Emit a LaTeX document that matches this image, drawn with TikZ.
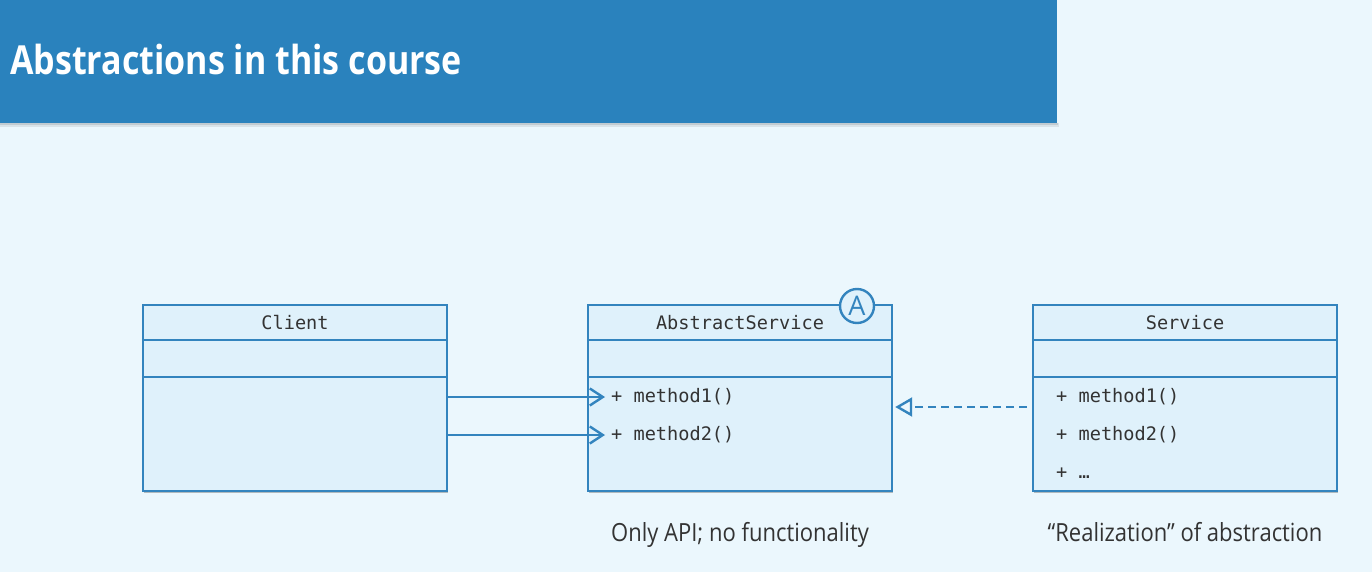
\documentclass[tikz,border=0pt]{standalone}
\usepackage{fontspec}
\setmainfont{Open Sans}
\newfontfamily\titlefont{Open Sans}[FakeStretch=0.85]
\newfontfamily\condfont{Open Sans}[FakeStretch=0.88]
\setmonofont{DejaVu Sans Mono}
\usetikzlibrary{arrows.meta,calc,shadows}

\definecolor{pagebg}{HTML}{EBF7FD}
\definecolor{barblue}{HTML}{2A82BD}
\definecolor{boxfill}{HTML}{DFF1FB}
\definecolor{boxline}{HTML}{3384BE}
\definecolor{inktext}{HTML}{333333}

\tikzset{
  classbox/.style={draw=boxline, line width=2.4pt, fill=boxfill,
    minimum width=304pt, minimum height=186pt, inner sep=0pt,
    drop shadow={shadow xshift=1pt, shadow yshift=-2pt, opacity=0.25, fill=black}},
  divider/.style={draw=boxline, line width=2.4pt},
  classname/.style={font=\ttfamily\fontsize{18.6}{20}\selectfont, text=inktext, inner sep=0pt},
  member/.style={font=\ttfamily\fontsize{18.6}{20}\selectfont, text=inktext, inner sep=0pt, anchor=west},
  note/.style={font=\condfont\fontsize{25}{28}\selectfont, text=inktext, inner sep=0pt, anchor=base},
  assoc/.style={draw=boxline, line width=2.4pt,
    -{Straight Barb[length=13pt, width=17pt, line width=2.4pt]}},
  realize/.style={draw=boxline, line width=2.4pt, dash pattern=on 8pt off 5pt,
    -{Triangle[open, length=17pt, width=19pt, line width=2.4pt, fill=pagebg]}},
  abstag/.style={circle, draw=boxline, line width=2.4pt, fill=boxfill, minimum size=34pt,
    inner sep=0pt, text=boxline, font=\fontsize{27}{28}\selectfont},
}

\begin{document}
\begin{tikzpicture}[x=1pt, y=-1pt]
  % page and header bar
  \fill[pagebg] (0,0) rectangle (1372,572);
  \useasboundingbox (0,0) rectangle (1372,572);
  \fill[black, opacity=0.08] (0,123) rectangle (1059,127);
  \fill[black, opacity=0.10] (0,123) rectangle (1058,125);
  \fill[barblue] (0,0) rectangle (1057,123);
  \node[anchor=base west, inner sep=0pt, text=white,
        font=\titlefont\bfseries\fontsize{40}{44}\selectfont] (title) at (10,75)
        {Abstractions in this course};

  % class boxes
  \node[classbox] (client)   at (295,398) {};
  \node[classbox] (abstract) at (740,398) {};
  \node[classbox] (service)  at (1185,398) {};

  % compartment dividers
  \foreach \c in {client,abstract,service} {
    \draw[divider] ($(\c.north west)+(0,36)$) -- ($(\c.north east)+(0,36)$);
    \draw[divider] ($(\c.north west)+(0,73)$) -- ($(\c.north east)+(0,73)$);
  }

  % class names
  \node[classname] (client-name)   at (295,323) {Client};
  \node[classname] (abstract-name) at (740,323) {AbstractService};
  \node[classname] (service-name)  at (1185,323) {Service};

  % abstract marker
  \node[abstag] (abstract-tag) at (857,306) {A};

  % operations
  \node[member] (abstract-m1) at (611,397) {+ method1()};
  \node[member] (abstract-m2) at (611,435) {+ method2()};
  \node[member] (service-m1)  at (1056,397) {+ method1()};
  \node[member] (service-m2)  at (1056,435) {+ method2()};
  \node[member] (service-m3)  at (1056,473) {+ …};

  % client calls into the abstraction
  \coordinate (call1-end) at (605,397);
  \coordinate (call2-end) at (605,435);
  \draw[assoc] (client.east |- call1-end) -- (call1-end);
  \draw[assoc] (client.east |- call2-end) -- (call2-end);

  % realization of the abstraction
  \coordinate (real-start) at (1027,407);
  \draw[realize] (real-start) -- ($(abstract.east |- real-start)+(2,0)$);

  % captions
  \node[note] (abstract-note) at (740,541) {Only API; no functionality};
  \node[note] (service-note)  at (1185,541) {“Realization” of abstraction};
\end{tikzpicture}
\end{document}
